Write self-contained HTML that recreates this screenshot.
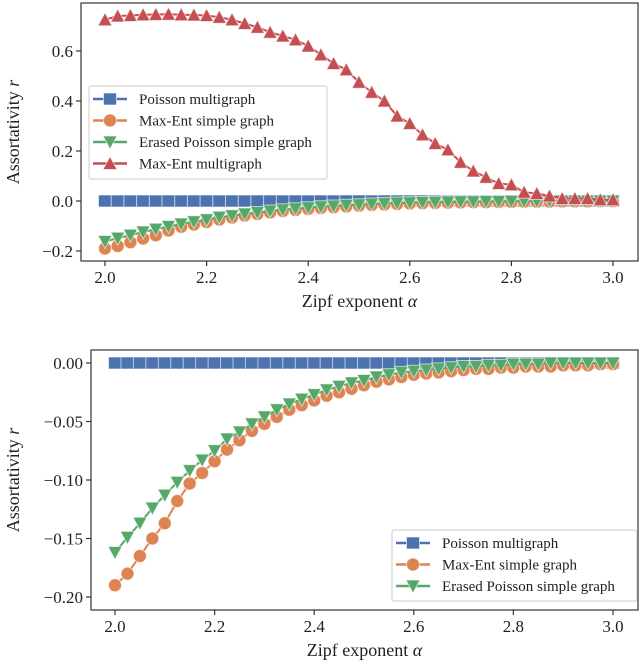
<!DOCTYPE html>
<html><head><meta charset="utf-8"><style>
body{margin:0;background:#fff}
svg{display:block}
text{font-family:"Liberation Serif","DejaVu Serif",serif;fill:#222}
</style></head><body>
<svg id="s" width="640" height="664"></svg>
<script>
const alphas=[];for(let i=0;i<=40;i++)alphas.push(2+i*0.025);
const redVals=[.725,.74,.742,.745,.746,.747,.745,.744,.742,.735,.725,.71,.695,.675,.66,.645,.62,.585,.55,.525,.475,.435,.40,.34,.31,.265,.23,.205,.155,.12,.095,.07,.065,.035,.03,.02,.01,.01,.01,.005,.005];
const orangeVals=[-0.19,-0.18,-0.165,-0.15,-0.137,-0.118,-0.103,-0.094,-0.084,-0.074,-0.066,-0.058,-0.052,-0.046,-0.04,-0.036,-0.032,-0.028,-0.025,-0.022,-0.019,-0.016,-0.014,-0.012,-0.010,-0.009,-0.008,-0.007,-0.006,-0.005,-0.005,-0.004,-0.004,-0.003,-0.003,-0.003,-0.002,-0.002,-0.002,-0.001,-0.001];
const greenVals=[-0.162,-0.149,-0.137,-0.124,-0.113,-0.102,-0.092,-0.083,-0.075,-0.065,-0.059,-0.052,-0.046,-0.040,-0.035,-0.031,-0.027,-0.023,-0.020,-0.017,-0.015,-0.012,-0.010,-0.008,-0.007,-0.006,-0.005,-0.004,-0.003,-0.003,-0.002,-0.002,-0.001,-0.001,-0.001,0,0,0,0,0,0];
const blueVals=alphas.map(()=>0);
const xTicks=[2.0,2.2,2.4,2.6,2.8,3.0];
const yTicksTop=[-0.2,0.0,0.2,0.4,0.6];
const yTicksBot=[-0.20,-0.15,-0.10,-0.05,0.00];
const legendTop=["Poisson multigraph","Max-Ent simple graph","Erased Poisson simple graph","Max-Ent multigraph"];
const legendBot=["Poisson multigraph","Max-Ent simple graph","Erased Poisson simple graph"];
const C={b:"#4c72b0",o:"#dd8452",g:"#55a868",r:"#c44e52"};
const NS="http://www.w3.org/2000/svg",S=document.getElementById('s');
function el(t,a,p){const e=document.createElementNS(NS,t);for(const k in a)e.setAttribute(k,a[k]);(p||S).appendChild(e);return e;}
function marker(g,type,x,y,c){let m;
 if(type==='s')m=el('rect',{x:x-6.5,y:y-6,width:13,height:12},g);
 else if(type==='o')m=el('circle',{cx:x,cy:y,r:6.5},g);
 else if(type==='v')m=el('polygon',{points:`${x-7},${y-6} ${x+7},${y-6} ${x},${y+7}`},g);
 else m=el('polygon',{points:`${x-7},${y+6} ${x+7},${y+6} ${x},${y-7}`},g);
 m.setAttribute('fill',c);m.setAttribute('stroke','rgba(255,255,255,0.6)');m.setAttribute('stroke-width','1');
 
 
 return m;}
function chart(o){
 const X=v=>o.x0+(v-2)*(o.x1-o.x0),Y=v=>o.y0+(v-o.v0)*(o.y1-o.y0)/(o.v1-o.v0);
 const g=el('g',{});
 const fr=el('rect',{x:o.L,y:o.T,width:o.R-o.L,height:o.B-o.T,fill:'none',stroke:'#333','stroke-width':1.2},g);
 
 xTicks.forEach(t=>{const x=X(t);el('line',{x1:x,x2:x,y1:o.B,y2:o.B+5,stroke:'#333','stroke-width':1.2},g);
  const tx=el('text',{x:x,y:o.B+22,'text-anchor':'middle','font-size':17},g);tx.textContent=t.toFixed(1);
  });
 o.yt.forEach(t=>{const y=Y(t);el('line',{x1:o.L-5,x2:o.L,y1:y,y2:y,stroke:'#333','stroke-width':1.2},g);
  const tx=el('text',{x:o.L-8,y:y+6,'text-anchor':'end','font-size':17},g);
  tx.textContent=(t<0?'\u2212':'')+Math.abs(t).toFixed(o.dec);
  });
 const yl=el('text',{x:0,y:0,transform:`translate(19,${(o.T+o.B)/2}) rotate(-90)`,'text-anchor':'middle','font-size':18},g);
 yl.innerHTML='Assortativity <tspan font-style="italic">r</tspan>';
 
 const xl=el('text',{x:(o.L+o.R)/2,y:o.B+46,'text-anchor':'middle','font-size':18},g);
 xl.innerHTML='Zipf exponent <tspan font-style="italic">α</tspan>';
 
 o.series.forEach(s=>{const sg=el('g',{},g);
  el('polyline',{points:alphas.map((a,i)=>X(a)+','+Y(s.v[i])).join(' '),fill:'none',stroke:s.c,'stroke-width':2},sg);
  alphas.forEach((a,i)=>marker(sg,s.m,X(a),Y(s.v[i]),s.c));});
 const lg=el('g',{},g);
 const lb=o.leg;el('rect',{x:lb.x,y:lb.y,width:lb.w,height:lb.h,fill:'#fff','fill-opacity':0.85,stroke:'#ccc',rx:2},lg);
 lb.labels.forEach((t,i)=>{const s=o.series[i],y=lb.y+13+i*21.5;
  const eg=el('g',{},lg);
  el('line',{x1:lb.x+4,x2:lb.x+38,y1:y,y2:y,stroke:s.c,'stroke-width':2.5},eg);
  marker(eg,s.m,lb.x+21,y,s.c);
  const tx=el('text',{x:lb.x+50,y:y+5,'font-size':15},eg);tx.textContent=t;});
}
chart({name:'top-chart',L:81,R:638,T:3,B:261,x0:105,x1:613,y0:201,y1:51,v0:0,v1:0.6,yt:yTicksTop,dec:1,
 series:[{name:'series-poisson-multigraph',v:blueVals,c:C.b,m:'s'},{name:'series-maxent-simple',v:orangeVals,c:C.o,m:'o'},
 {name:'series-erased-poisson',v:greenVals,c:C.g,m:'v'},{name:'series-maxent-multigraph',v:redVals,c:C.r,m:'^'}],
 leg:{x:89,y:86,w:238,h:93,labels:legendTop}});
chart({name:'bottom-chart',L:91,R:638,T:350,B:610,x0:115,x1:613,y0:363,y1:597,v0:0,v1:-0.2,yt:yTicksBot,dec:2,
 series:[{name:'series-poisson-multigraph',v:blueVals,c:C.b,m:'s'},{name:'series-maxent-simple',v:orangeVals,c:C.o,m:'o'},
 {name:'series-erased-poisson',v:greenVals,c:C.g,m:'v'}],
 leg:{x:392,y:530,w:245,h:71,labels:legendBot}});
</script>
</body></html>
